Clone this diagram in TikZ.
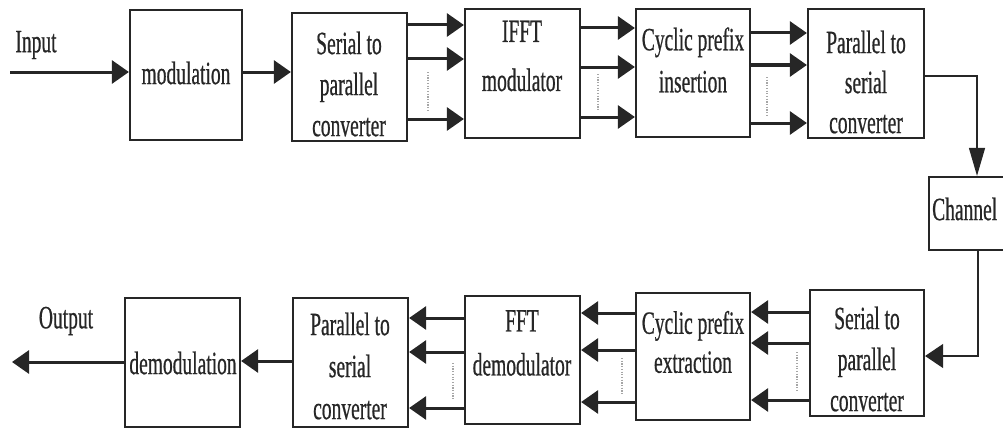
\documentclass[tikz,border=0pt]{standalone}
\usepackage{fontspec}
\setmainfont{Liberation Serif}[FakeStretch=0.6, FakeBold=0.6]
\usetikzlibrary{arrows.meta}
\definecolor{ink}{HTML}{262626}
\tikzset{
  blk/.style={draw=ink, line width=2.2pt, inner sep=0pt},
  lbl/.style={align=center, text=ink, inner sep=0pt, font=\fontsize{32.5}{41}\selectfont},
  sig/.style={draw=ink, line width=3pt, -{Triangle[length=17pt,width=23pt]}},
  thin/.style={draw=ink, line width=1.3pt},
  dots/.style={draw=gray!70, line width=1.3pt, dash pattern=on 1.2pt off 1.5pt},
}
\newcommand{\boxat}[5]{\node[blk, minimum width=#4-#2, minimum height=#5-#3] (#1) at ({(#2+#4)/2},{(#3+#5)/2}) {};}
\begin{document}
\begin{tikzpicture}[x=1pt,y=-1pt]
\useasboundingbox (0,0) rectangle (1003,428);
\clip (0,0) rectangle (1003,428);
% boxes
\boxat{mod}{130}{10}{242}{140}
\boxat{spa}{292}{13}{407}{141}
\boxat{ifft}{465}{9}{580}{138}
\boxat{cpi}{636}{9}{750}{137}
\boxat{psa}{808}{9}{924}{138}
\boxat{chan}{929}{177}{1020}{250}
\boxat{spb}{810}{290}{924}{416}
\boxat{cpe}{636}{293}{750}{420}
\boxat{fft}{465}{296}{580}{424}
\boxat{psb}{293}{298}{408}{427}
\boxat{demod}{125}{298}{240}{427}
% texts
\node[lbl] (tin) at (36,45) {Input};
\node[lbl] (tout) at (66,321) {Output};
\node[lbl] (tmod) at (186,73) {modulation};
\node[lbl] (tspa) at (349,84) {Serial to\\parallel\\converter};
\node[lbl, font=\fontsize{32.5}{49}\selectfont] (tifft) at (522,56) {IFFT\\modulator};
\node[lbl, font=\fontsize{32.5}{42}\selectfont] (tcpi) at (693,60) {Cyclic prefix\\insertion};
\node[lbl, font=\fontsize{32.5}{40}\selectfont] (tpsa) at (866,82) {Parallel to\\serial\\converter};
\node[lbl, anchor=west] (tchan) at (932,209) {Channel};
\node[lbl, font=\fontsize{32.5}{41}\selectfont] (tspb) at (867,359) {Serial to\\parallel\\converter};
\node[lbl, font=\fontsize{32.5}{39}\selectfont] (tcpe) at (693,342) {Cyclic prefix\\extraction};
\node[lbl, font=\fontsize{32.5}{44}\selectfont] (tfft) at (522,343) {FFT\\demodulator};
\node[lbl, font=\fontsize{32.5}{42}\selectfont] (tpsb) at (350,366) {Parallel to\\serial\\converter};
\node[lbl] (tdemod) at (183,363) {demodulation};
% input / output
\coordinate (inp) at (10,72);
\coordinate (outp) at (12,362);
\draw[sig] (inp) -- (mod.west |- inp);
\draw[sig] (mod.east |- 0,72) -- (spa.west |- 0,72);
% S/P -> IFFT
\foreach \yy in {25,59,119} \draw[sig] (spa.east |- 0,\yy) -- (ifft.west |- 0,\yy);
\draw[dots] (428,72) -- (428,110);
% IFFT -> CP insertion
\foreach \yy in {28,67,117} \draw[sig] (ifft.east |- 0,\yy) -- (cpi.west |- 0,\yy);
\draw[dots] (598,74) -- (598,110);
% CP insertion -> P/S
\foreach \yy in {33,65,123} \draw[sig] (cpi.east |- 0,\yy) -- (psa.west |- 0,\yy);
\draw[dots] (767,77) -- (767,115);
% P/S -> channel
\coordinate (c1) at (977,76);
\draw[thin, -{Triangle[length=28pt,width=16pt]}] (psa.east |- c1) -- (c1) -- (c1 |- chan.north);
% channel -> S/P
\coordinate (c2) at (978,356);
\draw[thin, -{Triangle[length=18pt,width=24pt]}] (c2 |- chan.south) -- (c2) -- (spb.east |- c2);
% S/P -> CP extraction
\foreach \yy in {312,343,400} \draw[sig] (spb.west |- 0,\yy) -- (cpe.east |- 0,\yy);
\draw[dots] (797,352) -- (797,390);
% CP extraction -> FFT
\foreach \yy in {313,350,402} \draw[sig] (cpe.west |- 0,\yy) -- (fft.east |- 0,\yy);
\draw[dots] (622,358) -- (622,395);
% FFT -> P/S
\foreach \yy in {318,352,408} \draw[sig] (fft.west |- 0,\yy) -- (psb.east |- 0,\yy);
\draw[dots] (453,363) -- (453,400);
% P/S -> demod
\draw[sig] (psb.west |- 0,361) -- (demod.east |- 0,361);
\draw[sig] (demod.west |- outp) -- (outp);
\end{tikzpicture}
\end{document}
